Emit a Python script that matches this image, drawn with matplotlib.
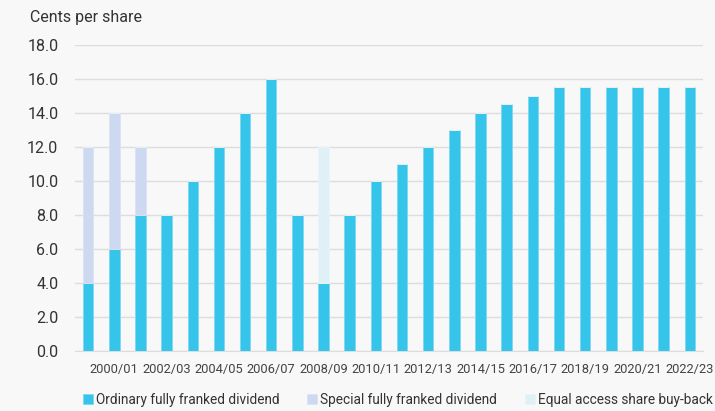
import numpy as np
import matplotlib.pyplot as plt

plt.rcParams['font.family'] = ['Roboto', 'DejaVu Sans']

# Financial years and dividend components (cents per share)
years = ["1999/00", "2000/01", "2001/02", "2002/03", "2003/04", "2004/05",
         "2005/06", "2006/07", "2007/08", "2008/09", "2009/10", "2010/11",
         "2011/12", "2012/13", "2013/14", "2014/15", "2015/16", "2016/17",
         "2017/18", "2018/19", "2019/20", "2020/21", "2021/22", "2022/23"]
ordinary = [4, 6, 8, 8, 10, 12, 14, 16, 8, 4, 8, 10,
            11, 12, 13, 14, 14.5, 15, 15.5, 15.5, 15.5, 15.5, 15.5, 15.5]
special = [8, 8, 4, 0, 0, 0, 0, 0, 0, 0, 0, 0,
           0, 0, 0, 0, 0, 0, 0, 0, 0, 0, 0, 0]
buyback = [0, 0, 0, 0, 0, 0, 0, 0, 0, 8, 0, 0,
           0, 0, 0, 0, 0, 0, 0, 0, 0, 0, 0, 0]

c_ord = '#36C5EA'
c_spec = '#CDD9F0'
c_buy = '#DFF1F6'
bg = '#F8F8F8'

fig = plt.figure(figsize=(7.15, 4.11), dpi=100, facecolor=bg)
ax = fig.add_axes([0.105, 0.146, 0.878, 0.745], facecolor=bg)

x = np.arange(len(years))
w = 0.4
ordinary = np.array(ordinary)
special = np.array(special)
buyback = np.array(buyback)

ax.bar(x, ordinary, w, color=c_ord, edgecolor='#7FD8F0', linewidth=0.6,
       label='Ordinary fully franked dividend', zorder=3)
ax.bar(x, special, w, bottom=ordinary, color=c_spec, edgecolor='#DCE4F4',
       linewidth=0.6, label='Special fully franked dividend', zorder=3)
ax.bar(x, buyback, w, bottom=ordinary + special, color=c_buy,
       edgecolor='#E8F5F9', linewidth=0.6,
       label='Equal access share buy-back', zorder=3)

ax.set_xlim(-0.5, len(years) - 0.5)
ax.set_ylim(0, 18)
ax.set_yticks(np.arange(0, 18.1, 2))
ax.set_yticklabels([f"{v:.1f}" for v in np.arange(0, 18.1, 2)],
                   fontsize=11.5, color='#333333')
ax.set_xticks(x[1::2])
ax.set_xticklabels(years[1::2], fontsize=9.3, color='#444444')
ax.tick_params(axis='both', length=0)
ax.tick_params(axis='x', pad=9)
ax.tick_params(axis='y', pad=12)
ax.grid(axis='y', color='#DDDDDD', linewidth=1, zorder=0)
for s in ['top', 'right', 'left']:
    ax.spines[s].set_visible(False)
ax.spines['bottom'].set_color('#DDDDDD')

fig.text(0.042, 0.958, 'Cents per share', fontsize=11.5, color='#333333',
         va='center', ha='left')

leg = fig.legend(loc='lower left', bbox_to_anchor=(0.099, -0.02), ncol=3,
                 frameon=False, fontsize=9.8, handlelength=0.7,
                 handleheight=0.7, handletextpad=0.25, columnspacing=2.05,
                 labelcolor='#333333')

fig.savefig('out.png', dpi=100, facecolor=bg)
